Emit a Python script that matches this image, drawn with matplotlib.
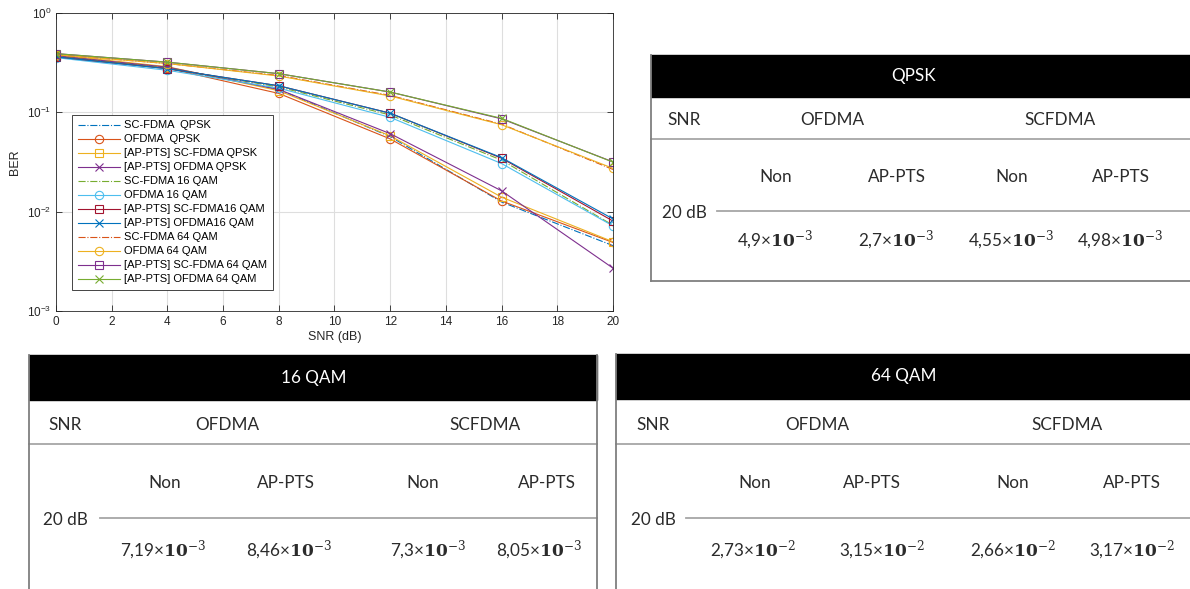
import matplotlib
matplotlib.use('Agg')
import matplotlib.pyplot as plt
from matplotlib.patches import Rectangle

plt.rcParams['mathtext.fontset'] = 'dejavuserif'

# SNR points (dB)
snr = [0, 4, 8, 12, 16, 20]

# BER curves
ber_sc_qpsk = [0.370, 0.280, 0.170, 0.057, 0.0125, 0.00455]
ber_of_qpsk = [0.370, 0.278, 0.155, 0.054, 0.0128, 0.0049]
ber_ap_sc_qpsk = [0.380, 0.288, 0.165, 0.058, 0.0140, 0.00498]
ber_ap_of_qpsk = [0.370, 0.285, 0.170, 0.061, 0.0162, 0.0027]
ber_sc_16 = [0.365, 0.278, 0.180, 0.094, 0.0330, 0.0073]
ber_of_16 = [0.355, 0.265, 0.175, 0.089, 0.0305, 0.00719]
ber_ap_sc_16 = [0.362, 0.275, 0.185, 0.098, 0.0345, 0.00805]
ber_ap_of_16 = [0.362, 0.275, 0.185, 0.098, 0.0350, 0.00846]
ber_sc_64 = [0.380, 0.310, 0.235, 0.148, 0.0760, 0.0266]
ber_of_64 = [0.380, 0.310, 0.232, 0.146, 0.0750, 0.0273]
ber_ap_sc_64 = [0.390, 0.320, 0.245, 0.160, 0.0860, 0.0317]
ber_ap_of_64 = [0.390, 0.320, 0.245, 0.160, 0.0870, 0.0315]

labels = ['SC-FDMA  QPSK', 'OFDMA  QPSK', '[AP-PTS] SC-FDMA QPSK', '[AP-PTS] OFDMA QPSK',
          'SC-FDMA 16 QAM', 'OFDMA 16 QAM', '[AP-PTS] SC-FDMA16 QAM', '[AP-PTS] OFDMA16 QAM',
          'SC-FDMA 64 QAM', 'OFDMA 64 QAM', '[AP-PTS] SC-FDMA 64 QAM', '[AP-PTS] OFDMA 64 QAM']
curves = [ber_sc_qpsk, ber_of_qpsk, ber_ap_sc_qpsk, ber_ap_of_qpsk,
          ber_sc_16, ber_of_16, ber_ap_sc_16, ber_ap_of_16,
          ber_sc_64, ber_of_64, ber_ap_sc_64, ber_ap_of_64]

# table contents
sub_heads = ['Non', 'AP-PTS', 'Non', 'AP-PTS']
group_heads = ['OFDMA', 'SCFDMA']
snr_row = '20 dB'
qpsk_vals = ['4,9', '2,7', '4,55', '4,98']
qam16_vals = ['7,19', '8,46', '7,3', '8,05']
qam64_vals = ['2,73', '3,15', '2,66', '3,17']

# MATLAB default colour order
mcol = ['#0072BD', '#D95319', '#EDB120', '#7E2F8E', '#77AC30', '#4DBEEE', '#A2142F']
styles = [('-.', None), ('-', 'o'), ('-', 's'), ('-', 'x')]

fig = plt.figure(figsize=(11.9, 5.89), dpi=100)

# ---- tables, drawn in pixel coordinates ----
tab = fig.add_axes([0, 0, 1, 1])
tab.set_xlim(0, 1190)
tab.set_ylim(589, 0)
tab.axis('off')

tfont = dict(family=['Lato', 'DejaVu Sans'], fontsize=12.3, color='#2b2b2b',
             ha='center', va='center')

def draw_table(title, vals, exp, L, R, rborder, top, hbot, l1, mid, mid_x0, bot,
               title_x, snr_x, grp_x, sub_x, val_x, y_snr, y_sub, y_val):
    tab.add_patch(Rectangle((L, top), R - L, hbot - top, color='black', zorder=2))
    tab.text(title_x, (top + hbot) / 2, title, **{**tfont, 'color': 'white'})
    tab.plot([L, R], [l1, l1], color='#a6a6a6', lw=1.3)
    tab.plot([mid_x0, R], [mid, mid], color='#a6a6a6', lw=1.3)
    yb = bot if bot else 589
    tab.plot([L, L], [top, yb], color='#7f7f7f', lw=1.3)
    if rborder:
        tab.plot([R, R], [top, yb], color='#7f7f7f', lw=1.3)
    if bot:
        tab.plot([L, R], [bot, bot], color='#7f7f7f', lw=1.3)
    tab.text(snr_x, y_snr, 'SNR', **tfont)
    for x, g in zip(grp_x, group_heads):
        tab.text(x, y_snr, g, **tfont)
    for x, s in zip(sub_x, sub_heads):
        tab.text(x, y_sub, s, **tfont)
    tab.text(snr_x, mid + 2, snr_row, **tfont)
    for x, v in zip(val_x, vals):
        tab.text(x, y_val, v + '×' + r'$\mathbf{10}^{%d}$' % exp, **tfont)

draw_table('QPSK', qpsk_vals, -3, 651, 1190, False, 55, 97, 139, 211, 717, 281,
           914, 684, [832, 1060], [776, 897, 1012, 1121], [775, 896, 1011, 1120],
           120, 177, 240)
draw_table('16 QAM', qam16_vals, -3, 29, 597, True, 355, 400, 444, 518, 100, None,
           314, 65, [227, 485], [165, 286, 423, 547], [163, 289, 428, 539],
           425, 483, 550)
draw_table('64 QAM', qam64_vals, -2, 616, 1190, False, 354, 399, 444, 518, 686, None,
           904, 653, [817, 1067], [755, 872, 1013, 1132], [753, 882, 1013, 1132],
           425, 483, 550)

# ---- BER plot ----
ax = fig.add_axes([56 / 1190, 1 - 311 / 589, 557 / 1190, 298 / 589])
for i, (y, lab) in enumerate(zip(curves, labels)):
    ls, mk = styles[i % 4]
    ax.semilogy(snr, y, linestyle=ls, marker=mk, color=mcol[i % 7], lw=0.8,
                markersize=6, markerfacecolor='none', markeredgewidth=0.8, label=lab)

ax.set_xlim(0, 20)
ax.set_ylim(1e-3, 1)
ax.set_xticks(range(0, 21, 2))
ax.minorticks_off()
ax.grid(True, color='#dedede', lw=0.8)
ax.set_axisbelow(True)
ax.tick_params(direction='in', top=True, right=True, length=4, width=0.6,
               colors='#262626', labelsize=8.5)
for sp in ax.spines.values():
    sp.set_color('#262626')
    sp.set_linewidth(0.6)
for t in ax.get_xticklabels() + ax.get_yticklabels():
    t.set_family('Liberation Sans')
ax.set_xlabel('SNR (dB)', family='Liberation Sans', fontsize=9, color='#262626', labelpad=2)
ax.set_ylabel('BER', family='Liberation Sans', fontsize=9, color='#262626', labelpad=4)

leg = ax.legend(loc='upper left', bbox_to_anchor=(0.029, 0.658), borderaxespad=0,
                fancybox=False, framealpha=1, edgecolor='#262626', handlelength=3.8,
                handletextpad=0.4, labelspacing=0.36, borderpad=0.5,
                prop={'family': 'Liberation Sans', 'size': 8})
leg.get_frame().set_linewidth(0.6)

fig.savefig('out.png', dpi=100)
